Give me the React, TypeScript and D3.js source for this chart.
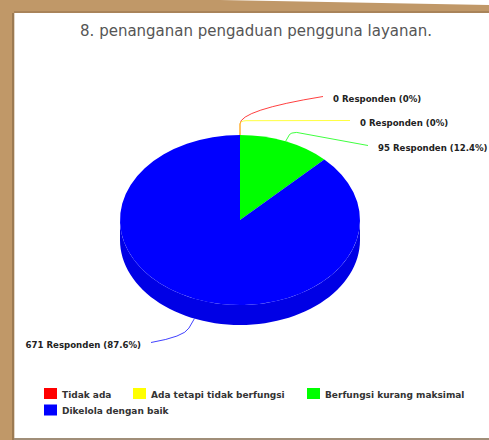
import React from "react";
import * as d3 from "d3";

const title = "8. penanganan pengaduan pengguna layanan.";
const categories = [
  "Tidak ada",
  "Ada tetapi tidak berfungsi",
  "Berfungsi kurang maksimal",
  "Dikelola dengan baik",
];
const values = [0, 0, 95, 671];
const colors = ["#ff0000", "#ffff00", "#00ff00", "#0000ff"];
const unit = "Responden";

// layout
const W = 489;
const H = 440;
const cx = 240;
const cy = 220;
const rx = 120;
const ry = 85;
const depth = 20;
const labelFont = "'DejaVu Sans', Verdana, sans-serif";

// label positions (layout, per slice)
const labelLayout = [
  { x: 333, y: 101.5, anchor: "start", knee: 11, mode: "curve", ctrl: 14 },
  { x: 360, y: 125.5, anchor: "start", knee: 11, mode: "corner", ctrl: 3 },
  { x: 378, y: 150.5, anchor: "start", knee: 8, mode: "corner", ctrl: 2 },
  { x: 141, y: 347.5, anchor: "end", knee: 11, mode: "curve", ctrl: 10 },
];

const legendRows = [[0, 1, 2], [3]];
const legendX = [62, 151, 325];

export default function App() {
  const total = d3.sum(values);
  const pie = d3
    .pie<number>()
    .sort(null)
    .startAngle(0)
    .endAngle(Math.PI * 2)(values);
  const arc = d3.arc<d3.PieArcDatum<number>>().innerRadius(0).outerRadius(rx);
  const pt = (a: number, dy = 0) => [cx + rx * Math.sin(a), cy - ry * Math.cos(a) + dy];

  // side walls (bottom half of the ellipse)
  const sides = pie
    .map((p, i) => {
      const a0 = Math.max(p.startAngle, Math.PI / 2);
      const a1 = Math.min(p.endAngle, (Math.PI * 3) / 2);
      if (a1 <= a0) return null;
      const angles = d3.range(0, 61).map((k) => a0 + ((a1 - a0) * k) / 60);
      const top = angles.map((a) => pt(a));
      const bottom = angles.slice().reverse().map((a) => pt(a, depth));
      const line = d3.line();
      return {
        i,
        d: line([...top, ...bottom] as [number, number][]) + "Z",
        color: d3.color(colors[i])!.darker(0.3).formatHex(),
      };
    })
    .filter(Boolean) as { i: number; d: string; color: string }[];

  const connectors = pie.map((p, i) => {
    const mid = (p.startAngle + p.endAngle) / 2;
    const inBottom = Math.cos(mid) < 0;
    const [sx, sy] = pt(mid, inBottom ? depth : 0);
    const dx = Math.sin(mid);
    const dy = -Math.cos(mid) * (ry / rx);
    const n = Math.hypot(dx, dy);
    const ux = dx / n;
    const uy = dy / n;
    const L = labelLayout[i];
    const kx = sx + ux * L.knee;
    const ky = sy + uy * L.knee;
    const h = L.anchor === "start" ? 1 : -1;
    const ex = L.x - h * 10;
    const ey = L.y - 5;
    const qx = kx + ux * L.ctrl;
    const qy = ky + uy * L.ctrl;
    let d: string;
    if (L.mode === "curve") {
      d = `M${sx},${sy}L${kx},${ky}Q${qx},${qy} ${ex},${ey}`;
    } else {
      const px = qx + h * 6;
      const py = qy - 0.3;
      d = `M${sx},${sy}L${kx},${ky}Q${qx},${qy} ${px},${py}L${ex},${ey}`;
    }
    return { i, d };
  });

  const fmtPct = (v: number) => `${Math.round((v / total) * 1000) / 10}%`;

  return (
    <svg
      width={W}
      height={H}
      style={{ position: "fixed", left: 0, top: 0, background: "#fff" }}
    >
      {/* frame */}
      <rect x={0} y={0} width={W} height={H} fill="#ffffff" />
      <polygon
        points={`0,0 220,0 ${W},5 ${W},13 14,13 14,${H} 0,${H}`}
        fill="#c09868"
      />
      <rect x={14} y={11} width={W - 14} height={2} fill="#a9845a" />
      <rect x={12} y={13} width={2} height={H - 13} fill="#9c7a52" />
      <rect x={14} y={13} width={1} height={H - 13} fill="#e3d6c6" />
      <rect x={14} y={438} width={W - 14} height={2} fill="#a08e78" />

      <text
        x={256}
        y={36}
        textAnchor="middle"
        fontFamily={labelFont}
        fontSize={15}
        fill="#555555"
      >
        {title}
      </text>

      {/* sides */}
      {sides.map((s) => (
        <path key={"s" + s.i} d={s.d} fill={s.color} />
      ))}
      {/* top faces */}
      <g transform={`translate(${cx},${cy}) scale(1,${ry / rx})`}>
        {pie.map((p, i) =>
          p.endAngle > p.startAngle ? (
            <path key={"p" + i} d={arc(p) || ""} fill={colors[i]} />
          ) : null
        )}
      </g>

      {/* connectors and labels */}
      {connectors.map((c) => (
        <path
          key={"c" + c.i}
          d={c.d}
          fill="none"
          stroke={colors[c.i]}
          strokeWidth={1}
          opacity={0.75}
        />
      ))}
      {pie.map((p, i) => (
        <text
          key={"l" + i}
          x={labelLayout[i].x}
          y={labelLayout[i].y}
          textAnchor={labelLayout[i].anchor}
          fontFamily={labelFont}
          fontWeight="bold"
          fontSize={8.6}
          fill="#222222"
        >
          {`${values[i]} ${unit} (${fmtPct(values[i])})`}
        </text>
      ))}

      {/* legend */}
      {legendRows.map((row, r) =>
        row.map((ci, k) => (
          <g key={"lg" + ci} transform={`translate(${legendX[k]},${397.5 + r * 16.5})`}>
            <rect x={-18} y={-9.5} width={13} height={11} fill={colors[ci]} />
            <text
              x={0}
              y={0}
              fontFamily={labelFont}
              fontWeight="bold"
              fontSize={9}
              fill="#333333"
            >
              {categories[ci]}
            </text>
          </g>
        ))
      )}
    </svg>
  );
}
